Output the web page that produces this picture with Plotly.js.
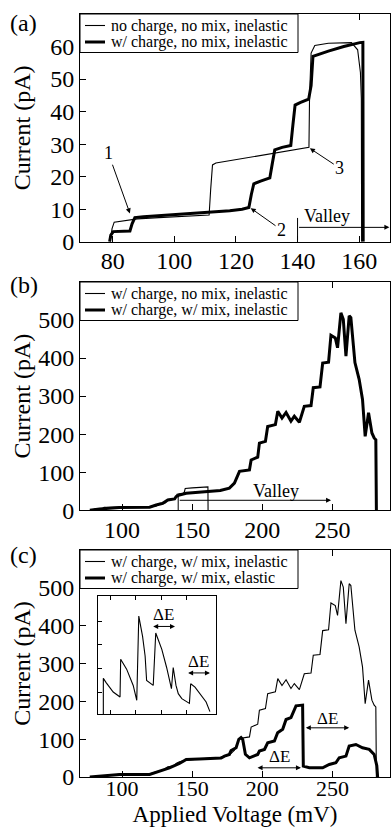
<!DOCTYPE html>
<html><head><meta charset="utf-8">
<script src="https://cdn.plot.ly/plotly-3.0.1.min.js"></script>
<style>html,body{margin:0;padding:0;background:#fff}#chart{width:391px;height:827px}</style>
</head><body><div id="chart"></div>
<script>
// Panel (a)
const aThinV = [79.2, 79.8, 80.5, 83.0, 86.0, 88.0, 95.0, 105.0, 111.3, 111.8, 112.4, 113.5, 120.0, 130.0, 140.0, 143.7, 143.9, 144.4, 145.6, 150.0, 157.5, 159.5, 160.4, 160.7, 160.8];
const aThinI = [0, 4.0, 6.0, 6.3, 6.6, 7.0, 7.4, 7.9, 8.2, 16.0, 23.6, 24.2, 25.2, 26.9, 28.4, 29.0, 45.0, 58.0, 60.3, 61.0, 61.2, 59.0, 52.0, 44.0, 0];
const aThickV = [79.0, 79.4, 80.2, 83.0, 85.6, 86.3, 87.2, 90.0, 100.0, 110.0, 118.0, 122.0, 124.2, 125.0, 125.8, 128.0, 131.0, 131.8, 132.6, 135.0, 137.8, 138.5, 139.2, 141.0, 143.6, 144.4, 145.0, 150.0, 155.0, 160.2, 161.2, 161.3];
const aThickI = [0, 2.0, 3.1, 3.1, 3.3, 5.5, 7.4, 7.7, 8.3, 8.9, 9.5, 10.0, 10.5, 14.5, 17.8, 18.6, 19.6, 24.0, 28.2, 29.0, 29.6, 36.0, 42.0, 42.8, 43.8, 48.0, 57.0, 58.6, 60.0, 61.2, 61.3, 0];
// Panel (b): thin = (a) thick ; thick = w/ charge, w/ mix, inelastic
const bMixV = [77, 84, 98, 110, 119.6, 124.3, 129, 132.6, 137.4, 138.5, 140.9, 145.7, 155, 162.3, 170, 176.5, 180.1, 183.7, 190.8, 192, 196.7, 197.9, 202.2, 203.8, 209.3, 211, 214, 216.9, 220.4, 222.8, 226.4, 229.9, 234.7, 236.3, 241.1, 243, 247.2, 248.9, 252, 253.6, 256, 257.7, 259.6, 261.9, 263.1, 266, 269, 271.4, 273.3, 275.7, 278.1, 279.7, 280.9, 281.3];
const bMixI = [0, 3, 7, 7.5, 7.8, 13.7, 18, 26.9, 29.5, 35.7, 40, 44.5, 47, 49, 52, 58, 71, 102, 106, 132, 139.5, 176.5, 181, 220, 225, 260, 242, 257, 234, 247, 231, 273, 275, 322, 324, 387, 389, 460, 453, 427, 519, 502, 405, 511, 506, 388, 344, 291, 194, 256, 203, 190, 185, 0];
// Panel (c): thin = (b) thick ; thick = elastic
const cElV = [77, 98.2, 119.6, 126.7, 133.8, 140.9, 145.7, 155, 164.6, 170.6, 173, 176.5, 177.7, 181.3, 183.2, 184.8, 186, 187.9, 190.8, 194.3, 196.7, 197.9, 201.5, 203.8, 208.6, 210.9, 214.5, 216.9, 220.4, 224, 228.7, 229.2, 233.5, 243, 247.7, 252.4, 254.8, 259.6, 261.9, 266.7, 271.4, 276.2, 279.7, 281.6, 282.2];
const cElI = [0, 6.6, 6.6, 15.4, 24.3, 35.7, 46.3, 47.5, 48.1, 50, 55.2, 59.6, 70, 77.3, 99.4, 104, 99, 60, 50.8, 55.2, 59.6, 68.5, 72.9, 90.6, 95, 117, 126, 152, 157, 188, 190, 28.7, 24.3, 24.3, 33, 37.6, 50.8, 55.2, 81.7, 86, 77.3, 72.9, 59.6, 30, 0];
// Inset (arbitrary units)
const insetU = [-0.29, -0.29, -0.18, 0.10, 0.37, 0.395, 0.63, 0.89, 1.03, 1.11, 1.26, 1.36, 1.42, 1.68, 1.78, 2.02, 2.21, 2.34, 2.40, 2.47, 2.58, 2.67, 2.81, 3.11, 3.16, 3.33, 3.53, 3.77, 3.92];
const insetW = [-0.93, 0.58, 0.40, 0.0, -0.21, 1.39, 0.97, 0.28, -0.35, 3.22, 2.36, 1.53, 0.49, 0.28, 2.50, 1.81, 1.04, 0.42, 0.14, 1.04, 0.28, -0.07, -0.28, -0.48, 0.35, 0.21, -0.07, -0.42, -0.83];

const aTicks = [80, 100, 120, 140, 160];
const aYTicks = [0, 10, 20, 30, 40, 50, 60];
const bcTicks = [100, 150, 200, 250];
const bcYTicks = [0, 100, 200, 300, 400, 500];
const legendA = ['no charge, no mix, inelastic', 'w/ charge, no mix, inelastic'];
const legendB = ['w/ charge, no mix, inelastic', 'w/ charge, w/ mix, inelastic'];
const legendC = ['w/ charge, w/ mix, inelastic', 'w/ charge, w/ mix, elastic'];

const F = 'Liberation Serif, Times New Roman, serif';
const K = '#000';
const thin = {color: K, width: 1.1};
const thick = {color: K, width: 3};

const traces = [
  {x: aThinV, y: aThinI, xaxis: 'x', yaxis: 'y', mode: 'lines', line: thin, name: legendA[0]},
  {x: aThickV, y: aThickI, xaxis: 'x', yaxis: 'y', mode: 'lines', line: thick, name: legendA[1]},
  {x: aThickV, y: aThickI, xaxis: 'x2', yaxis: 'y2', mode: 'lines', line: thin, name: legendB[0]},
  {x: bMixV, y: bMixI, xaxis: 'x2', yaxis: 'y2', mode: 'lines', line: thick, name: legendB[1]},
  {x: bMixV, y: bMixI, xaxis: 'x3', yaxis: 'y3', mode: 'lines', line: thin, name: legendC[0]},
  {x: cElV, y: cElI, xaxis: 'x3', yaxis: 'y3', mode: 'lines', line: thick, name: legendC[1]},
  {x: insetU, y: insetW, xaxis: 'x4', yaxis: 'y4', mode: 'lines', line: {color: K, width: 1.1}, name: 'inset'}
];

const base = {showline: true, linecolor: K, linewidth: 1, ticks: 'inside', ticklen: 6, tickcolor: K, tickwidth: 1,
  showgrid: false, zeroline: false, fixedrange: true, tickfont: {family: F, size: 24, color: K}};
function xa(o) { return Object.assign({}, base, {mirror: 'ticks', ticklabelstandoff: -2}, o); }
function ya(o) { return Object.assign({}, base, {mirror: true}, o); }

const tf = {family: F, size: 24, color: K};
const af = {family: F, size: 18, color: K};
const df = {family: F, size: 17, color: K};
const lf = {family: F, size: 16, color: K};

function arrow(xr, yr, x, y, ax, ay, text, font, both) {
  return {xref: xr, yref: yr, axref: xr, ayref: yr, x: x, y: y, ax: ax, ay: ay, text: text, font: font || af,
    showarrow: true, arrowhead: 2, arrowsize: 1, arrowwidth: 1, arrowcolor: K, standoff: 0, startstandoff: 0,
    arrowside: both ? 'end+start' : 'end', startarrowhead: 2, startarrowsize: 1};
}
function label(xr, yr, x, y, text, font, xanchor) {
  return {xref: xr, yref: yr, x: x, y: y, text: text, font: font || af, showarrow: false,
    xanchor: xanchor || 'center', yanchor: 'middle'};
}

// plot area in pixels: left 80, width 310, top 14, height 763
const L = 80, W = 310, B = 777, H = 763;
const px = v => (v - L) / W;
const py = v => (B - v) / H;

const annotations = [
  label('paper', 'paper', px(23.5), py(23), '(a)', tf),
  label('paper', 'paper', px(23.5), py(285), '(b)', tf),
  label('paper', 'paper', px(23.5), py(555), '(c)', tf),
  arrow('x', 'y', 85.6, 8.7, 78.6, 27.2, '1'),
  arrow('x', 'y', 124.8, 10.3, 134.8, 3.6, '2'),
  arrow('x', 'y', 144.0, 28.7, 153.7, 22.6, '3'),
  arrow('x', 'y', 169.8, 4.4, 140, 4.4, ''),
  label('x', 'y', 149.4, 7.9, 'Valley'),
  arrow('x2', 'y2', 249, 26, 140, 26, ''),
  label('x2', 'y2', 209.7, 50, 'Valley'),
  arrow('x3', 'y3', 261.9, 130, 229.9, 130, '', df, true),
  label('x3', 'y3', 246.5, 154, 'ΔE', df),
  arrow('x3', 'y3', 227.5, 24.3, 195.5, 24.3, '', df, true),
  label('x3', 'y3', 212.1, 53, 'ΔE', df),
  arrow('x4', 'y4', 2.54, 2.78, 1.62, 2.78, '', df, true),
  label('x4', 'y4', 2.08, 3.27, 'ΔE', df),
  arrow('x4', 'y4', 3.92, 0.81, 3.0, 0.81, '', df, true),
  label('x4', 'y4', 3.46, 1.3, 'ΔE', df)
];

const shapes = [
  {type: 'line', xref: 'x', yref: 'y', x0: 140, x1: 140, y0: 0.5, y1: 7.3, line: {color: K, width: 1}},
  {type: 'line', xref: 'x2', yref: 'y2', x0: 140, x1: 140, y0: 0, y1: 35, line: {color: K, width: 1}}
];

// legend boxes (one per panel)
[[14, legendA], [282, legendB], [550, legendC]].forEach(([top, names]) => {
  shapes.push({type: 'rect', xref: 'paper', yref: 'paper', x0: px(80), x1: px(298), y0: py(top + 38.5), y1: py(top),
    line: {color: K, width: 1}, fillcolor: '#fff', layer: 'above'});
  [[11.5, 1.1], [28, 3]].forEach(([dy, w], i) => {
    shapes.push({type: 'line', xref: 'paper', yref: 'paper', x0: px(85), x1: px(105), y0: py(top + dy), y1: py(top + dy),
      line: {color: K, width: w}});
    annotations.push(label('paper', 'paper', px(109), py(top + dy), names[i], lf, 'left'));
  });
});

const layout = {
  width: 391, height: 827, margin: {l: L, r: 1, t: 14, b: 50}, paper_bgcolor: '#fff', plot_bgcolor: '#fff',
  font: {family: F, color: K}, showlegend: false,
  xaxis: xa({domain: [0, 1], anchor: 'y', range: [69.4, 170], tickvals: aTicks}),
  yaxis: ya({domain: [0.7016, 1], anchor: 'x', range: [0, 70], tickvals: aYTicks,
    title: {text: 'Current (pA)', font: tf, standoff: 12}}),
  xaxis2: xa({domain: [0, 1], anchor: 'y2', range: [70, 291], tickvals: bcTicks}),
  yaxis2: ya({domain: [0.3497, 0.6488], anchor: 'x2', range: [0, 600], tickvals: bcYTicks,
    title: {text: 'Current (pA)', font: tf, standoff: 0}}),
  xaxis3: xa({domain: [0, 1], anchor: 'y3', range: [70, 291], tickvals: bcTicks, ticklabelstandoff: -8,
    tickfont: {family: F, size: 22, color: K},
    title: {text: 'Applied Voltage (mV)', font: {family: F, size: 23, color: K}, standoff: 22}}),
  yaxis3: ya({domain: [0, 0.2975], anchor: 'x3', range: [0, 600], tickvals: bcYTicks,
    title: {text: 'Current (pA)', font: tf, standoff: 0}}),
  xaxis4: Object.assign({}, base, {mirror: 'ticks', ticklen: 4, showticklabels: false, domain: [0.0565, 0.4387], anchor: 'y4', range: [-0.52, 4.16], tickvals: [0, 1, 2, 3]}),
  yaxis4: Object.assign({}, base, {mirror: true, ticklen: 4, showticklabels: false, domain: [0.0826, 0.2372], anchor: 'x4', range: [-0.93, 4.07], tickvals: [0, 1, 2, 3]}),
  annotations: annotations,
  shapes: shapes
};

Plotly.newPlot('chart', traces, layout, {displayModeBar: false, staticPlot: true});
</script></body></html>
